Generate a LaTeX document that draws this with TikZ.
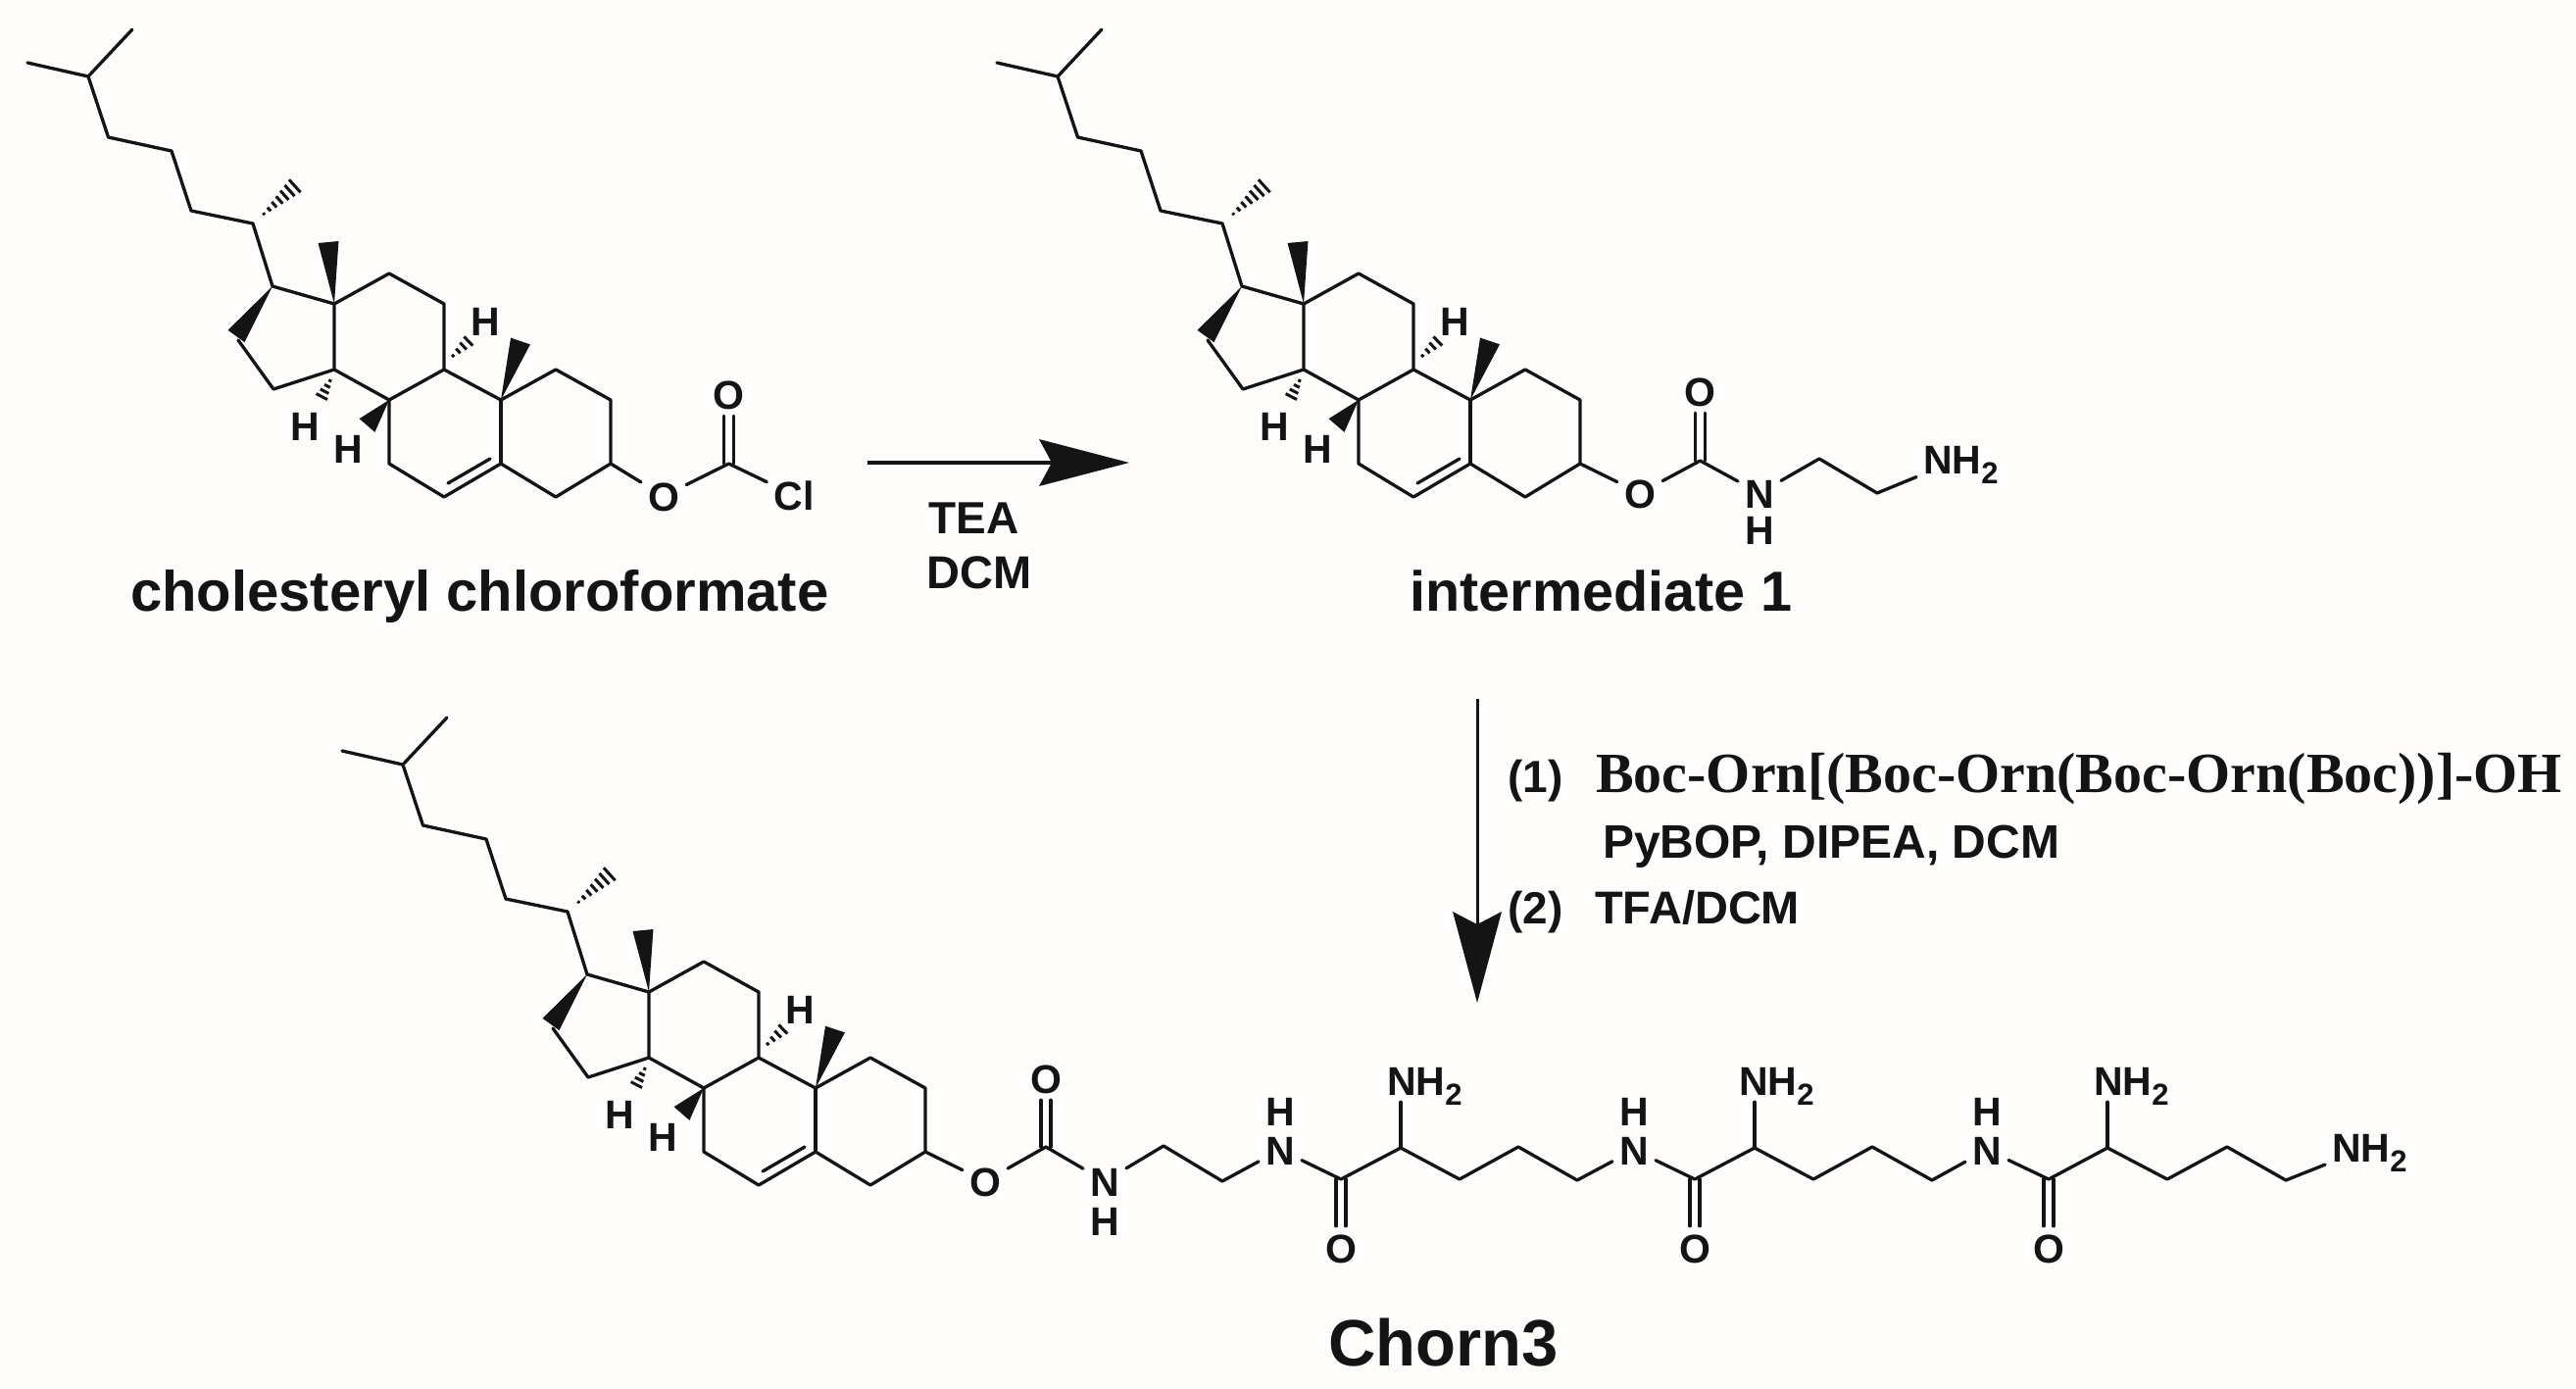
\documentclass[tikz,border=0pt]{standalone}
\usepackage{fontspec}
\usetikzlibrary{calc}
\setmainfont{Liberation Sans}
\newfontfamily\boldf{Liberation Sans Bold}
\newfontfamily\timesb{Liberation Serif Bold}
\definecolor{ink}{HTML}{141414}
\definecolor{paper}{HTML}{FEFDFB}
\newcommand\sz[1]{\fontsize{#1}{#1}\selectfont}
\newcommand\nhtwo{NH\raisebox{-10pt}{\sz{31}2}}
\tikzset{
  bond/.style={draw=ink,line width=3.3pt,line cap=round,line join=round},
  hashline/.style={draw=ink,line width=3pt},
  wedgefill/.style={fill=ink},
  atom/.style={inner sep=7pt,text height=30pt,text depth=0pt,text=ink,font=\boldf\sz{41}},
  atomleft/.style={atom,anchor=west},
  hatom/.style={inner sep=0pt,text=ink,font=\boldf\sz{41}},
  lab/.style={inner sep=0pt,anchor=base west,text=ink},
  head/.style={fill=ink},
  rxn/.style={draw=ink,line width=3.4pt}
}
\newcommand\hashb[4]{%
  \foreach \i in {1,...,#3}{%
    \pgfmathsetmacro\tt{\i/#3}\pgfmathsetmacro\ww{#4*\tt}%
    \draw[hashline] ($(#1)!\tt!(#2)!\ww pt!90:(#2)$) -- ($(#1)!\tt!(#2)!\ww pt!-90:(#2)$);
  }}
\newcommand\wedgeb[3]{%
  \fill[wedgefill] (#1) -- ($(#2)!#3 pt!90:(#1)$) -- ($(#2)!#3 pt!-90:(#1)$) -- cycle;}
\newcommand\dblv[3]{% carbon, oxygen node, oxygen anchor
  \draw[bond] ([xshift=-5pt]#1) -- ([xshift=-5pt]#2.#3);
  \draw[bond] ([xshift=5pt]#1) -- ([xshift=5pt]#2.#3);}
% steroid core + side chain, prefix #1, offset #2
\newcommand\cholcore[2]{%
\begin{scope}[shift={#2}]
  \foreach \n/\x/\y in {a/135/30,b/28/64,c/90/78,d/110.5/140,e/175/154,f/195/215,g/258/228,
     hs/264/223,ht/306/185,c17/278/292,m18/335/247,c13/341/310,c12/397/279,c11/453/310,
     c9/453/377,c14/341/377,c16/243/347,w16/241/343,c15/279/397,c8/397/408,c10/511/408,m19/531/348,
     c1/567/377,c2/623/408,c3/623/473,c4/567/507,c5/511/473,c6/453/507,c7/397/473,
     i1/457/493,i2/500/468,h9s/457/368,h9t/483/343,h14s/339.5/383,h14t/325.5/410,w8/374.5/434}
    {\coordinate (#1\n) at (\x,\y);}
  \draw[bond] (#1a) -- (#1c) -- (#1b);
  \draw[bond] (#1c) -- (#1d) -- (#1e) -- (#1f) -- (#1g) -- (#1c17) -- (#1c13) -- (#1c12) -- (#1c11) -- (#1c9) -- (#1c8) -- (#1c14) -- (#1c13);
  \draw[bond] (#1c14) -- (#1c15) -- (#1c16);
  \draw[bond] (#1c9) -- (#1c10) -- (#1c1) -- (#1c2) -- (#1c3) -- (#1c4) -- (#1c5) -- (#1c6) -- (#1c7) -- (#1c8);
  \draw[bond] (#1c5) -- (#1c10);
  \draw[bond] (#1i1) -- (#1i2);
  \wedgeb{#1c17}{#1w16}{10.5}
  \wedgeb{#1c13}{#1m18}{10.5}
  \wedgeb{#1c10}{#1m19}{10.5}
  \wedgeb{#1c8}{#1w8}{10.5}
  \hashb{#1hs}{#1ht}{8}{10}
  \hashb{#1h9s}{#1h9t}{5}{8}
  \hashb{#1h14s}{#1h14t}{5}{8}
  \node[hatom] (#1h9) at (495,328) {H};
  \node[hatom] (#1h14) at (311,435) {H};
  \node[hatom] (#1h8) at (355,458) {H};
\end{scope}}
\begin{document}
\begin{tikzpicture}[x=1pt,y=-1pt]
\useasboundingbox (0,0) rectangle (2628,1416);
\fill[paper] (0,0) rectangle (2628,1416);

% ---------- cholesteryl chloroformate
\cholcore{a}{(0,0)}
\node[atom] (aO) at (677,506) {O};
\coordinate (aC) at (743.5,473);
\node[atom] (aOt) at (743.5,402) {O};
\node[atom] (aCl) at (810,505) {Cl};
\draw[bond] (ac3) -- (aO);
\draw[bond] (aO) -- (aC);
\draw[bond] (aC) -- (aCl);
\dblv{aC}{aOt}{south}
\node[lab,font=\boldf\sz{58}] (name1) at (133,623) {cholesteryl chloroformate};

% ---------- first arrow
\coordinate (r1s) at (885,472);
\coordinate (r1n) at (1073,472);
\coordinate (r1t) at (1152,472);
\draw[rxn] (r1s) -- (r1n);
\fill[head] (r1t) -- (1060,448) -- (r1n) -- (1060,496) -- cycle;
\node[lab,font=\boldf\sz{46}] (tea) at (947,544) {TEA};
\node[lab,font=\boldf\sz{47}] (dcm) at (945,600) {DCM};

% ---------- intermediate 1
\cholcore{b}{(989,0)}
\node[atom] (bO) at (1673,503) {O};
\coordinate (bC) at (1734.5,470);
\node[atom] (bOt) at (1734.5,399) {O};
\node[atom] (bN) at (1795,503) {N};
\node[atom] (bH) at (1795,540) {H};
\coordinate (b1) at (1856,468);
\coordinate (b2) at (1915,503);
\node[atomleft] (bNH) at (1955,468) {\nhtwo};
\draw[bond] (bc3) -- (bO);
\draw[bond] (bO) -- (bC);
\draw[bond] (bC) -- (bN);
\dblv{bC}{bOt}{south}
\draw[bond] (bN) -- (b1) -- (b2) -- (bNH);
\node[lab,font=\boldf\sz{57.6}] (name2) at (1438,623) {intermediate 1};

% ---------- second arrow
\coordinate (r2s) at (1507,713);
\coordinate (r2n) at (1507,943);
\coordinate (r2t) at (1507,1023);
\draw[rxn,line width=3pt] (r2s) -- (r2n);
\fill[head] (r2t) -- (1482,930) -- (r2n) -- (1532,930) -- cycle;
\node[lab,font=\boldf\sz{46}] (s1) at (1538,808) {(1)};
\node[lab,font=\timesb\sz{58}] (boc) at (1628,808) {Boc-Orn[(Boc-Orn(Boc-Orn(Boc))]-OH};
\node[lab,font=\boldf\sz{48}] (py) at (1635,875) {PyBOP, DIPEA, DCM};
\node[lab,font=\boldf\sz{46}] (s2) at (1538,942) {(2)};
\node[lab,font=\boldf\sz{47}] (tfa) at (1627,942) {TFA/DCM};

% ---------- Chorn3
\cholcore{c}{(321,702)}
\node[atom] (cO) at (1005,1205) {O};
\coordinate (cC) at (1067,1170);
\node[atom] (cOt) at (1067,1100) {O};
\node[atom] (cN) at (1127,1205) {N};
\node[atom] (cH) at (1127,1245) {H};
\coordinate (k1) at (1187,1169);
\coordinate (k2) at (1247,1205);
\draw[bond] (cc3) -- (cO);
\draw[bond] (cO) -- (cC);
\draw[bond] (cC) -- (cN);
\dblv{cC}{cOt}{south}
\draw[bond] (cN) -- (k1) -- (k2);
% residue 1
\node[atom] (n1) at (1306,1173) {N};
\node[atom] (h1) at (1306,1133) {H};
\coordinate (co1) at (1368,1203);
\node[atom] (o1) at (1368,1273) {O};
\coordinate (ca1) at (1429,1171);
\node[atomleft] (am1) at (1408,1102) {\nhtwo};
\coordinate (p1) at (1489,1203);
\coordinate (q1) at (1549,1170);
\coordinate (r1) at (1609,1204);
\draw[bond] (k2) -- (n1);
\draw[bond] (n1) -- (co1) -- (ca1) -- (p1) -- (q1) -- (r1);
\dblv{co1}{o1}{north}
\draw[bond] (ca1) -- (ca1|-am1.south);
% residue 2
\node[atom] (n2) at (1667,1173) {N};
\node[atom] (h2) at (1667,1133) {H};
\coordinate (co2) at (1729,1203);
\node[atom] (o2) at (1729,1273) {O};
\coordinate (ca2) at (1790,1171);
\node[atomleft] (am2) at (1767,1102) {\nhtwo};
\coordinate (p2) at (1850,1203);
\coordinate (q2) at (1910,1170);
\coordinate (r2) at (1971,1204);
\draw[bond] (r1) -- (n2);
\draw[bond] (n2) -- (co2) -- (ca2) -- (p2) -- (q2) -- (r2);
\dblv{co2}{o2}{north}
\draw[bond] (ca2) -- (ca2|-am2.south);
% residue 3
\node[atom] (n3) at (2027,1173) {N};
\node[atom] (h3) at (2027,1133) {H};
\coordinate (co3) at (2090,1203);
\node[atom] (o3) at (2090,1273) {O};
\coordinate (ca3) at (2150,1171);
\node[atomleft] (am3) at (2129,1102) {\nhtwo};
\coordinate (p3) at (2211,1203);
\coordinate (q3) at (2272,1170);
\coordinate (r3) at (2332,1204);
\node[atomleft] (am4) at (2372,1170) {\nhtwo};
\draw[bond] (r2) -- (n3);
\draw[bond] (n3) -- (co3) -- (ca3) -- (p3) -- (q3) -- (r3) -- (am4);
\dblv{co3}{o3}{north}
\draw[bond] (ca3) -- (ca3|-am3.south);
\node[lab,font=\boldf\sz{67}] (name3) at (1355,1393) {Chorn3};
\end{tikzpicture}
\end{document}
